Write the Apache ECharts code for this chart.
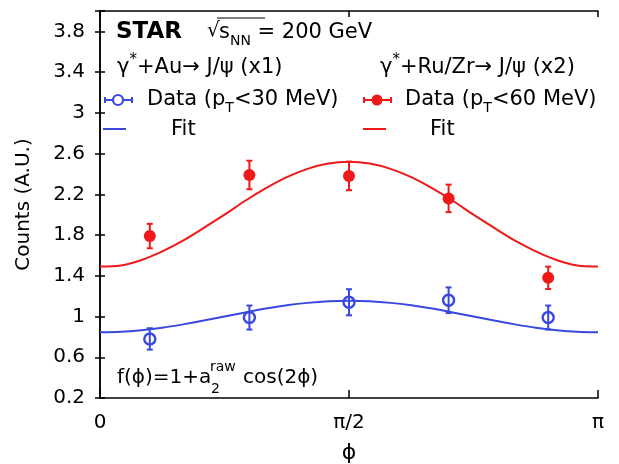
<!DOCTYPE html>
<html>
<head>
<meta charset="utf-8">
<script src="https://cdn.jsdelivr.net/npm/echarts@6/dist/echarts.min.js"></script>
<style>
  html, body { margin: 0; padding: 0; background: #fff; }
  #chart { width: 619px; height: 464px; }
</style>
</head>
<body>
<div id="chart"></div>
<script>
// x is phi in units of pi
const binCenters = [0.1, 0.3, 0.5, 0.7, 0.9]
const auValues = [0.78, 0.99, 1.14, 1.16, 0.99]
const auErrors = [0.105, 0.118, 0.128, 0.126, 0.118]
const ruValues = [1.79, 2.39, 2.38, 2.16, 1.38]
const ruErrors = [0.12, 0.14, 0.14, 0.135, 0.11]
// fit curves, every pi/24
const fitX = [0, 1, 2, 3, 4, 5, 6, 7, 8, 9, 10, 11, 12, 13, 14, 15, 16, 17, 18, 19, 20, 21, 22, 23, 24].map(k => k / 24)
const auFit = [0.845, 0.85, 0.866, 0.89, 0.923, 0.96, 1.0, 1.04, 1.078, 1.11, 1.134, 1.15, 1.155,
  1.15, 1.134, 1.11, 1.078, 1.04, 1.0, 0.96, 0.923, 0.89, 0.866, 0.85, 0.845]
const ruFit = [1.49, 1.50, 1.555, 1.64, 1.745, 1.87, 2.0, 2.137, 2.26, 2.368, 2.45, 2.502, 2.52,
  2.502, 2.45, 2.368, 2.26, 2.137, 2.0, 1.87, 1.745, 1.64, 1.555, 1.50, 1.49]
const xTickLabels = { 0: '0', 0.5: 'π/2', 1: 'π' }

const BLUE = '#3848e0'
const RED = '#f01818'
const FONT = 'DejaVu Sans'

function errorBars (color) {
  return function (params, api) {
    const x = api.value(0)
    const y = api.value(1)
    const e = api.value(2)
    const lo = api.coord([x, y - e])
    const hi = api.coord([x, y + e])
    const st = { stroke: color, lineWidth: 2 }
    return {
      type: 'group',
      children: [
        { type: 'line', shape: { x1: lo[0], y1: lo[1], x2: hi[0], y2: hi[1] }, style: st },
        { type: 'line', shape: { x1: lo[0] - 3, y1: lo[1], x2: lo[0] + 3, y2: lo[1] }, style: st },
        { type: 'line', shape: { x1: hi[0] - 3, y1: hi[1], x2: hi[0] + 3, y2: hi[1] }, style: st }
      ]
    }
  }
}

function rows (xs, ys, es) {
  return xs.map((x, i) => es ? [x, ys[i], es[i]] : [x, ys[i]])
}

const txt = (size, extra) => Object.assign({ fontFamily: FONT, fontSize: size, fill: '#000', verticalAlign: 'middle' }, extra || {})
const rich = {
  n: { fontFamily: FONT, fontSize: 21, lineHeight: 30, verticalAlign: 'middle' },
  sub: { fontFamily: FONT, fontSize: 14, lineHeight: 30, verticalAlign: 'bottom' },
  sup: { fontFamily: FONT, fontSize: 15, lineHeight: 30, verticalAlign: 'top' }
}

function label (x, y, text) {
  return { type: 'text', x: x, y: y, style: { text: text, rich: rich, verticalAlign: 'middle', align: 'left' } }
}

function legendMarker (cx, cy, color, hollow) {
  const st = { stroke: color, lineWidth: 2 }
  return [
    { type: 'line', shape: { x1: cx - 13, y1: cy, x2: cx + 14, y2: cy }, style: st },
    { type: 'line', shape: { x1: cx - 13, y1: cy - 3, x2: cx - 13, y2: cy + 3 }, style: st },
    { type: 'line', shape: { x1: cx + 14, y1: cy - 3, x2: cx + 14, y2: cy + 3 }, style: st },
    { type: 'circle', shape: { cx: cx, cy: cy, r: hollow ? 5 : 5.5 },
      style: hollow ? { fill: '#fff', stroke: color, lineWidth: 2.2 } : { fill: color } }
  ]
}

const chart = echarts.init(document.getElementById('chart'))

const axisLineStyle = { color: '#000', width: 1.5 }
const yTick = v => {
  if (Math.abs(v - 4) < 1e-6) return ''
  return String(+v.toFixed(1))
}

const option = {
  backgroundColor: '#fff',
  animation: false,
  grid: { left: 100, right: 21, top: 11, bottom: 66, outerBoundsMode: 'none' },
  xAxis: [{
    type: 'value', min: 0, max: 1, interval: 0.5,
    name: 'ϕ', nameLocation: 'middle', nameGap: 44,
    nameTextStyle: { fontFamily: FONT, fontSize: 22, color: '#000' },
    axisLine: { lineStyle: axisLineStyle },
    axisTick: { inside: true, length: 8, lineStyle: { color: '#000', width: 1.5 } },
    axisLabel: { fontFamily: FONT, fontSize: 20, color: '#000', margin: 15,
      formatter: v => xTickLabels[+v.toFixed(2)] },
    splitLine: { show: false }
  }, {
    type: 'value', min: 0, max: 1, interval: 0.5, position: 'top',
    axisLine: { lineStyle: axisLineStyle },
    axisTick: { inside: true, length: 6, lineStyle: { color: '#000', width: 1.5 } },
    axisLabel: { show: false },
    splitLine: { show: false }
  }],
  yAxis: [{
    type: 'value', min: 0.2, max: 4, interval: 0.4,
    name: 'Counts (A.U.)', nameLocation: 'middle', nameGap: 66,
    nameTextStyle: { fontFamily: FONT, fontSize: 20, color: '#000' },
    axisLine: { show: true, lineStyle: axisLineStyle },
    axisTick: { inside: true, length: 5, lineStyle: { color: '#000', width: 1.5 } },
    axisLabel: { fontFamily: FONT, fontSize: 20, color: '#000', margin: 15, formatter: yTick },
    splitLine: { show: false }
  }, {
    type: 'value', min: 0.2, max: 4, interval: 0.4, position: 'right',
    axisLine: { show: true, lineStyle: axisLineStyle },
    axisTick: { inside: true, length: 5, lineStyle: { color: '#000', width: 1.5 } },
    axisLabel: { show: false },
    splitLine: { show: false }
  }],
  series: [
    {
      name: 'Au fit', type: 'line', smooth: 0.3, showSymbol: false,
      data: rows(fitX, auFit),
      lineStyle: { color: BLUE, width: 2 }, z: 2
    },
    {
      name: 'Ru fit', type: 'line', smooth: 0.3, showSymbol: false,
      data: rows(fitX, ruFit),
      lineStyle: { color: RED, width: 2 }, z: 2
    },
    {
      name: 'Au err', type: 'custom', renderItem: errorBars(BLUE),
      data: rows(binCenters, auValues, auErrors), z: 3
    },
    {
      name: 'Au data', type: 'scatter', symbol: 'circle', symbolSize: 11,
      data: rows(binCenters, auValues),
      itemStyle: { color: 'rgba(0,0,0,0)', borderColor: BLUE, borderWidth: 2.4, opacity: 1 }, z: 4
    },
    {
      name: 'Ru err', type: 'custom', renderItem: errorBars(RED),
      data: rows(binCenters, ruValues, ruErrors), z: 3
    },
    {
      name: 'Ru data', type: 'scatter', symbol: 'circle', symbolSize: 12,
      data: rows(binCenters, ruValues),
      itemStyle: { color: RED, opacity: 1 }, z: 4
    }
  ],
  graphic: [
    { type: 'text', x: 116, y: 32, style: txt(23, { text: 'STAR', fontWeight: 'bold' }) },
    { type: 'text', x: 207, y: 31, style: txt(20, { text: '√' }) },
    { type: 'line', shape: { x1: 217, y1: 18, x2: 265, y2: 18 }, style: { stroke: '#000', lineWidth: 1.2 } },
    label(219, 33, '{n|s}{sub|NN}{n| = 200 GeV}'),
    label(117, 68, '{n|γ}{sup|*}{n|+Au→ J/ψ (x1)}'),
    label(380, 68, '{n|γ}{sup|*}{n|+Ru/Zr→ J/ψ (x2)}'),
    label(147, 100, '{n|Data (p}{sub|T}{n|<30 MeV)}'),
    label(405, 100, '{n|Data (p}{sub|T}{n|<60 MeV)}'),
    { type: 'line', shape: { x1: 103, y1: 129, x2: 126, y2: 129 }, style: { stroke: BLUE, lineWidth: 2 } },
    { type: 'line', shape: { x1: 363, y1: 129, x2: 386, y2: 129 }, style: { stroke: RED, lineWidth: 2 } },
    label(171, 130, '{n|Fit}'),
    label(430, 130, '{n|Fit}'),
    { type: 'text', x: 117, y: 378, style: txt(20, { text: 'f(ϕ)=1+a' }) },
    { type: 'text', x: 210, y: 367, style: txt(14, { text: 'raw' }) },
    { type: 'text', x: 211, y: 389, style: txt(14, { text: '2' }) },
    { type: 'text', x: 243, y: 378, style: txt(20, { text: 'cos(2ϕ)' }) }
  ].concat(legendMarker(118, 100, BLUE, true), legendMarker(377, 100, RED, false))
}

chart.setOption(option)
</script>
</body>
</html>
